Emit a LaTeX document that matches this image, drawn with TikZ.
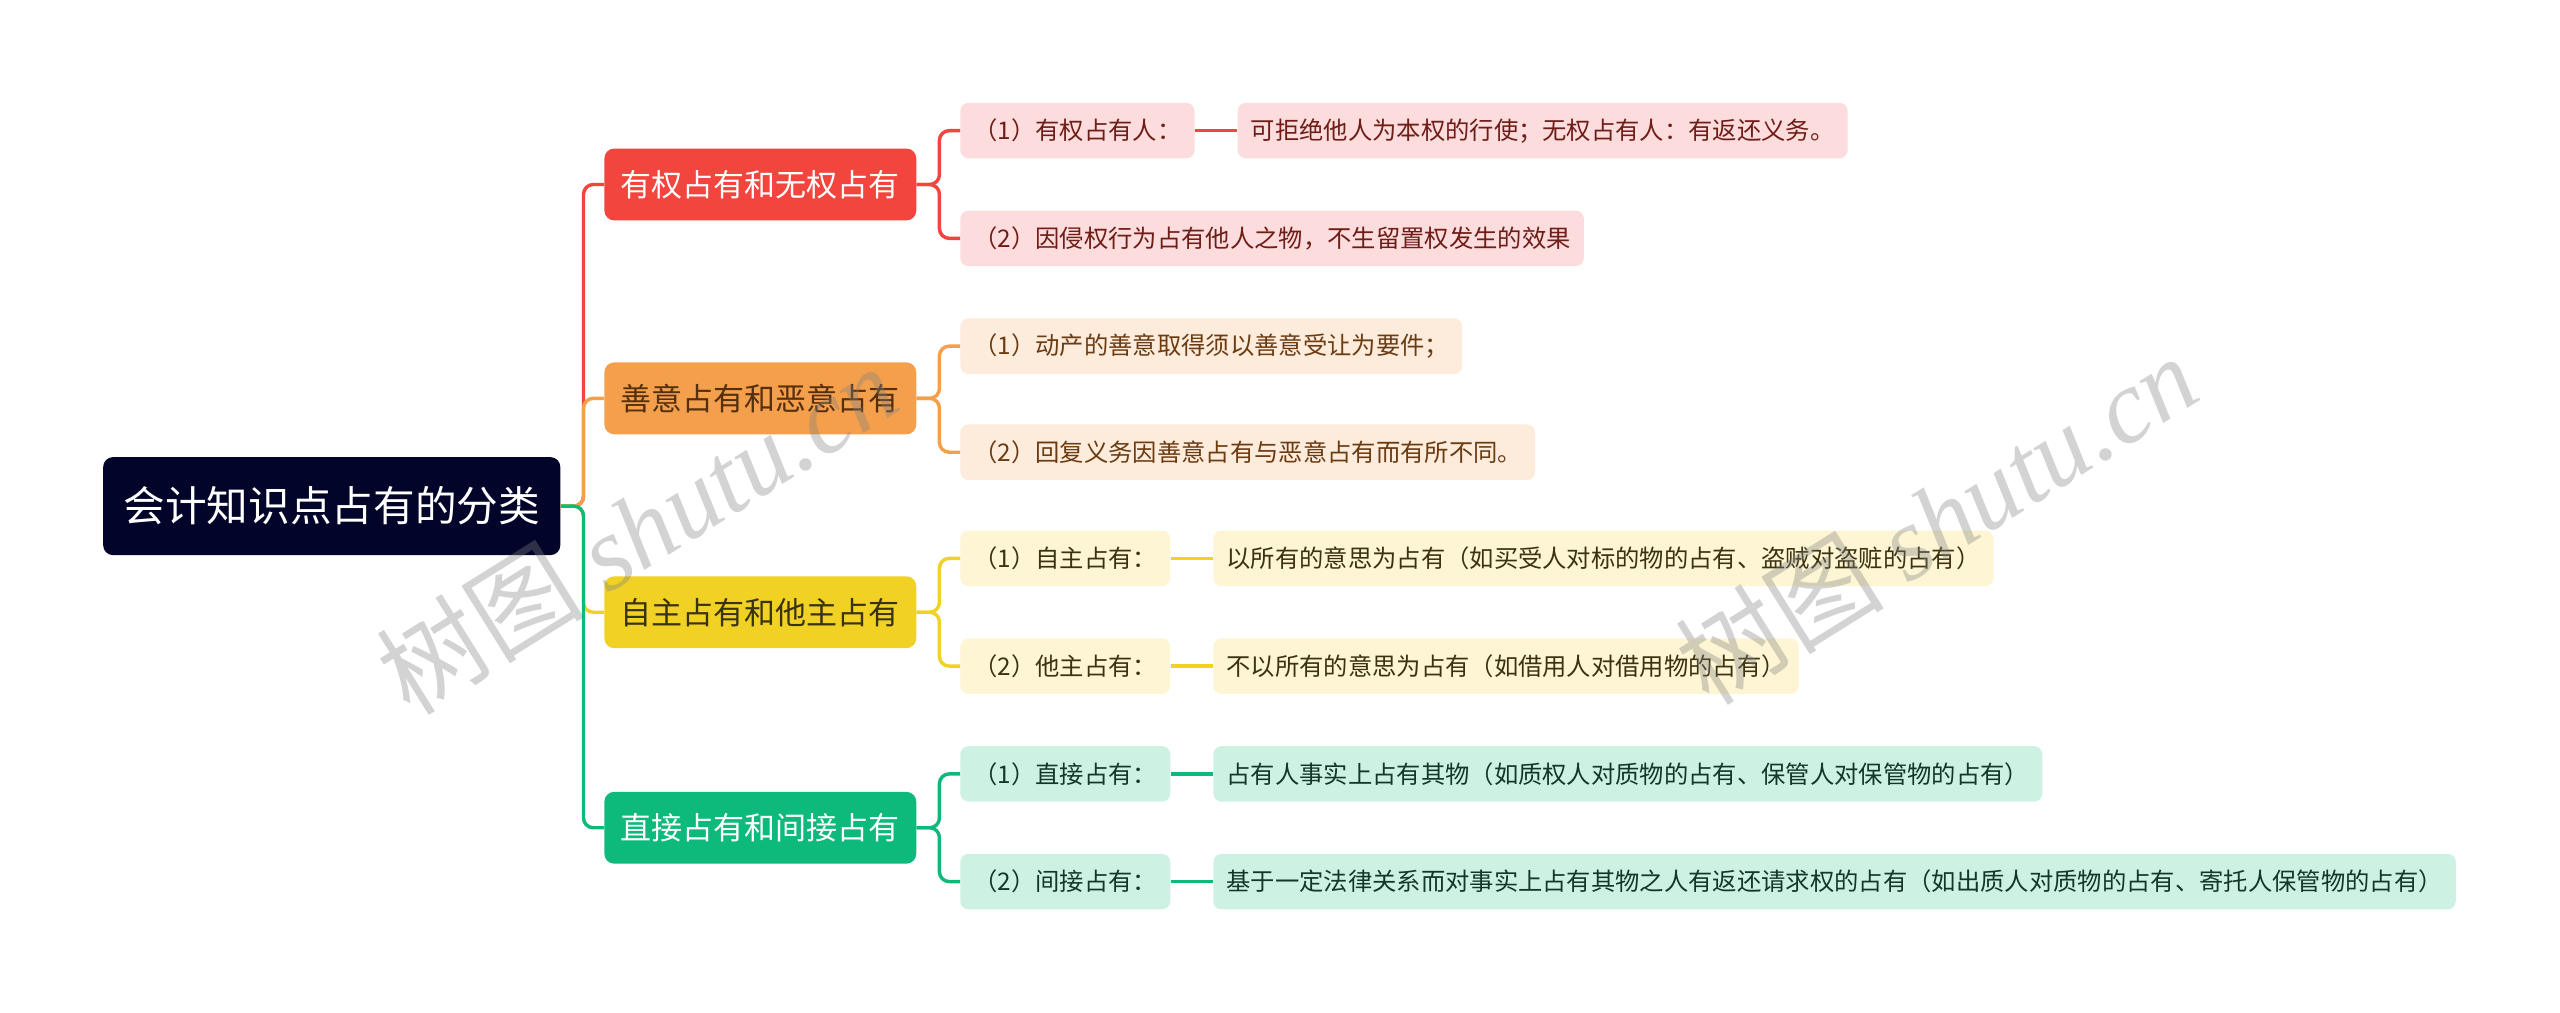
\documentclass[tikz,border=0pt]{standalone}
\usepackage{fontspec}
\setmainfont{Noto Sans CJK SC}
\newfontfamily\wmlatin{Liberation Serif}
\usetikzlibrary{positioning}
\definecolor{rootc}{HTML}{03042A}
\definecolor{redc}{HTML}{F2453D}
\definecolor{orac}{HTML}{F39F4C}
\definecolor{yelc}{HTML}{F0D124}
\definecolor{grec}{HTML}{0DB97B}
\definecolor{redl}{HTML}{FCDCDC}
\definecolor{oral}{HTML}{FDEBDC}
\definecolor{yell}{HTML}{FDF5D3}
\definecolor{grel}{HTML}{CDF1E2}
\definecolor{redt}{HTML}{6E1D17}
\definecolor{orat}{HTML}{6B3B12}
\definecolor{yelt}{HTML}{3A3312}
\definecolor{gret}{HTML}{12382A}
\begin{document}
\begin{tikzpicture}[x=1pt,y=-1pt,
  rootbox/.style={fill=rootc,text=white,rounded corners=6pt,minimum height=60pt,minimum width=280pt,inner xsep=10pt,anchor=west,font=\fontsize{25.5}{29}\selectfont},
  mainbox/.style={rounded corners=6pt,minimum height=44pt,minimum width=191pt,inner xsep=8pt,anchor=west,font=\fontsize{19}{22}\selectfont},
  leafbox/.style={rounded corners=5pt,minimum height=34pt,inner xsep=8pt,anchor=west,font=\fontsize{14.9}{17}\selectfont},
  link/.style={line width=2.1pt,rounded corners=6pt},
  wm/.style={rotate=32,text=black!50,text opacity=0.35,font=\fontsize{64}{70}\selectfont}
]
\useasboundingbox (0,0) rectangle (1568,620);
% root
\node[rootbox] (root) at (63,310) {会计知识点占有的分类};
% main branches
\node[mainbox,fill=redc,text=white] (b1) at (370,113) {有权占有和无权占有};
\node[mainbox,fill=orac,text=orat!80!black] (b2) at (370,244) {善意占有和恶意占有};
\node[mainbox,fill=yelc,text=yelt] (b3) at (370,375) {自主占有和他主占有};
\node[mainbox,fill=grec,text=white] (b4) at (370,507) {直接占有和间接占有};
% leaves
\node[leafbox,fill=redl,text=redt] (l11) at (588,80) {（1）有权占有人：};
\node[leafbox,fill=redl,text=redt,right=26pt of l11] (d11) {可拒绝他人为本权的行使；无权占有人：有返还义务。};
\node[leafbox,fill=redl,text=redt] (l12) at (588,146) {（2）因侵权行为占有他人之物，不生留置权发生的效果};
\node[leafbox,fill=oral,text=orat] (l21) at (588,212) {（1）动产的善意取得须以善意受让为要件；};
\node[leafbox,fill=oral,text=orat] (l22) at (588,277) {（2）回复义务因善意占有与恶意占有而有所不同。};
\node[leafbox,fill=yell,text=yelt] (l31) at (588,342) {（1）自主占有：};
\node[leafbox,fill=yell,text=yelt,right=26pt of l31] (d31) {以所有的意思为占有（如买受人对标的物的占有、盗贼对盗赃的占有）};
\node[leafbox,fill=yell,text=yelt] (l32) at (588,408) {（2）他主占有：};
\node[leafbox,fill=yell,text=yelt,right=26pt of l32] (d32) {不以所有的意思为占有（如借用人对借用物的占有）};
\node[leafbox,fill=grel,text=gret] (l41) at (588,474) {（1）直接占有：};
\node[leafbox,fill=grel,text=gret,right=26pt of l41] (d41) {占有人事实上占有其物（如质权人对质物的占有、保管人对保管物的占有）};
\node[leafbox,fill=grel,text=gret] (l42) at (588,540) {（2）间接占有：};
\node[leafbox,fill=grel,text=gret,right=26pt of l42] (d42) {基于一定法律关系而对事实上占有其物之人有返还请求权的占有（如出质人对质物的占有、寄托人保管物的占有）};
% root to branches
\draw[link,redc] (root.east) -- ++(14,0) |- (b1.west);
\draw[link,orac] (root.east) -- ++(14,0) |- (b2.west);
\draw[link,yelc] (root.east) -- ++(14,0) |- (b3.west);
\draw[link,grec] (root.east) -- ++(14,0) |- (b4.west);
% branches to leaves
\draw[link,redc] (b1.east) -- ++(14,0) |- (l11.west);
\draw[link,redc] (b1.east) -- ++(14,0) |- (l12.west);
\draw[link,orac] (b2.east) -- ++(14,0) |- (l21.west);
\draw[link,orac] (b2.east) -- ++(14,0) |- (l22.west);
\draw[link,yelc] (b3.east) -- ++(14,0) |- (l31.west);
\draw[link,yelc] (b3.east) -- ++(14,0) |- (l32.west);
\draw[link,grec] (b4.east) -- ++(14,0) |- (l41.west);
\draw[link,grec] (b4.east) -- ++(14,0) |- (l42.west);
% leaf to detail
\draw[link,redc] (l11.east) -- (d11.west);
\draw[link,yelc] (l31.east) -- (d31.west);
\draw[link,yelc] (l32.east) -- (d32.west);
\draw[link,grec] (l41.east) -- (d41.west);
\draw[link,grec] (l42.east) -- (d42.west);
% watermarks
\node[wm] (wm1) at (390,324) {树图 {\wmlatin\itshape shutu.cn}};
\node[wm] (wm2) at (1186,318) {树图 {\wmlatin\itshape shutu.cn}};
\end{tikzpicture}
\end{document}
